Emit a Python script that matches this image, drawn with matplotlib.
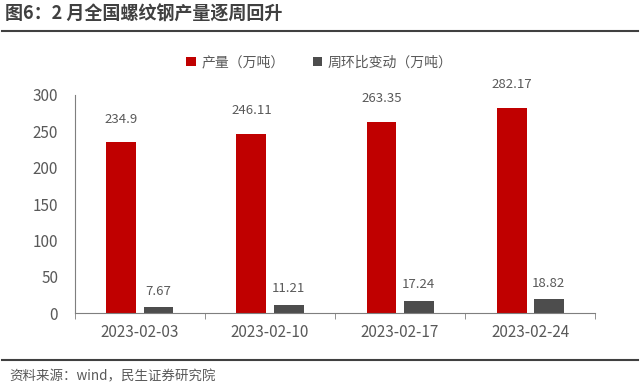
import matplotlib.pyplot as plt
import numpy as np
from matplotlib.lines import Line2D

plt.rcParams['font.family'] = ['Noto Sans CJK SC', 'DejaVu Sans']

dates = ['2023-02-03', '2023-02-10', '2023-02-17', '2023-02-24']
output = [234.9, 246.11, 263.35, 282.17]
wow_change = [7.67, 11.21, 17.24, 18.82]
yticks = [0, 50, 100, 150, 200, 250, 300]

red = '#C00000'
gray = '#4D4D4D'
txt = '#595959'

fig = plt.figure(figsize=(6.4, 3.86), dpi=100)
ax = fig.add_axes([0.117, 0.189, 0.813, 0.565])

x = np.arange(len(dates))
w = 0.23
off = 0.143
ax.bar(x - off, output, w, color=red, label='产量（万吨）')
ax.bar(x + off, wow_change, w, color=gray, label='周环比变动（万吨）')

for xi, v in zip(x, output):
    ax.annotate(f'{v:g}', (xi - off, v), xytext=(0, 12), textcoords='offset points',
                ha='center', va='bottom', fontsize=9.5, color=txt)
for xi, v in zip(x, wow_change):
    ax.annotate(f'{v:g}', (xi + off, v), xytext=(0, 7), textcoords='offset points',
                ha='center', va='bottom', fontsize=9.5, color=txt)

ax.set_xlim(-0.5, 3.5)
ax.set_ylim(0, 300)
ax.set_yticks(yticks)
ax.set_xticks(x)
ax.set_xticklabels(dates)
ax.set_xticks(np.arange(-0.5, 4.0, 1.0), minor=True)
ax.tick_params(axis='x', which='major', length=0, pad=8, labelsize=11, labelcolor=txt)
ax.tick_params(axis='x', which='minor', length=4, color='#7f7f7f', direction='out')
ax.tick_params(axis='y', length=0, pad=12, labelsize=11, labelcolor=txt)
for s in ['top', 'right']:
    ax.spines[s].set_visible(False)
ax.spines['left'].set_color('#7f7f7f')
ax.spines['bottom'].set_color('#7f7f7f')

ax.legend(loc='lower center', bbox_to_anchor=(0.47, 1.06), ncol=2, frameon=False,
          fontsize=10, handlelength=0.7, handleheight=0.7, columnspacing=2.0,
          handletextpad=0.4, labelcolor=txt)

fig.text(0.008, 0.963, '图6：2 月全国螺纹钢产量逐周回升', fontsize=13,
         fontweight='bold', color='#404040', va='center', ha='left')
fig.add_artist(Line2D([0.003, 0.997], [0.92, 0.92], color='#404040', lw=1.5))
fig.add_artist(Line2D([0.003, 0.997], [0.067, 0.067], color='#404040', lw=1.5))
fig.text(0.015, 0.026, '资料来源：wind，民生证券研究院', fontsize=9.7,
         color=txt, va='center', ha='left')

fig.savefig('out.png', dpi=100)
